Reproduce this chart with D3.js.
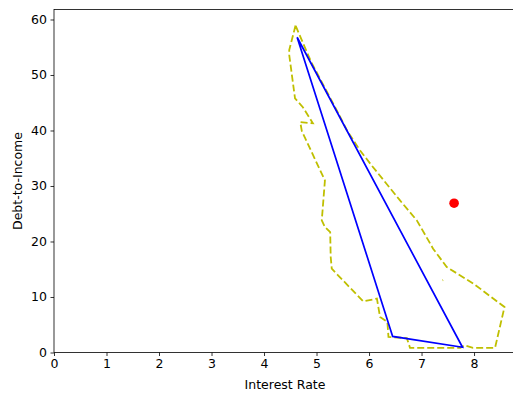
<!DOCTYPE html>
<html><head><meta charset="utf-8">
<script src="https://cdn.jsdelivr.net/npm/d3@7"></script>
<style>body{margin:0;background:#fff}svg text{font-family:"DejaVu Sans",sans-serif;fill:#000}</style>
</head><body><svg id="c" width="513" height="396"></svg>
<script>
const xTicks = [0,1,2,3,4,5,6,7,8];
const yTicks = [0,10,20,30,40,50,60];
const hullX = [4.63, 6.45, 7.78, 4.63];
const hullY = [56.8, 2.9, 0.95, 56.8];
const boundX = [4.60,4.48,4.48,4.59,4.74,4.93,4.69,4.72,5.16,5.10,5.16,5.26,5.27,5.29,5.89,6.15,6.21,6.35,6.37,6.72,6.78,7.74,7.82,7.98,8.40,8.58,7.99,7.48,7.22,7.13,6.91,6.59,6.05,5.83,5.58,5.42,5.18,4.90,4.60];
const boundY = [58.9,54.5,53.6,45.8,44.2,41.3,41.5,39.9,31.0,23.8,22.6,21.7,17.2,15.1,9.2,9.7,6.4,5.5,2.8,2.6,0.85,0.85,1.3,0.85,0.85,8.2,12.4,15.4,18.7,20.2,23.8,27.4,33.7,36.4,40.0,43.0,47.3,52.3,58.9];
const strayX = [7.40, 7.41];
const strayY = [13.0, 13.05];
const pointX = [7.62];
const pointY = [26.9];

const m = {l:54, t:9.5, r:515, b:352.5};
const x = d3.scaleLinear().domain([0, 8.78]).range([m.l, m.r]);
const y = d3.scaleLinear().domain([0, 61.8]).range([m.b, m.t]);
const svg = d3.select("#c");

const line = d3.line().x(d=>x(d[0])).y(d=>y(d[1]));
svg.append("path").datum(boundX.map((v,i)=>[v,boundY[i]]))
  .attr("d", line).attr("fill","none").attr("stroke","#bfbf00")
  .attr("stroke-width",1.8).attr("stroke-dasharray","7,3");
svg.append("path").datum(strayX.map((v,i)=>[v,strayY[i]]))
  .attr("d", line).attr("fill","none").attr("stroke","#bfbf00")
  .attr("stroke-width",1.8);
svg.append("path").datum(hullX.map((v,i)=>[v,hullY[i]]))
  .attr("d", line).attr("fill","none").attr("stroke","#0000ff")
  .attr("stroke-width",1.7).attr("stroke-linejoin","miter");
svg.selectAll("circle.pt").data(pointX.map((v,i)=>[v,pointY[i]])).enter()
  .append("circle").attr("cx",d=>x(d[0])).attr("cy",d=>y(d[1])).attr("r",4.8).attr("fill","#ff0000");

svg.append("rect").attr("x",m.l).attr("y",m.t).attr("width",m.r-m.l).attr("height",m.b-m.t)
  .attr("fill","none").attr("stroke","#000").attr("stroke-width",0.8);

const xa = svg.append("g").attr("transform",`translate(0,${m.b})`)
  .call(d3.axisBottom(x).tickValues(xTicks).tickSize(3.5).tickPadding(3).tickFormat(d3.format("d")));
const ya = svg.append("g").attr("transform",`translate(${m.l},0)`)
  .call(d3.axisLeft(y).tickValues(yTicks).tickSize(3.5).tickPadding(3.5).tickFormat(d3.format("d")));
[xa,ya].forEach(a=>{
  a.select(".domain").remove();
  a.selectAll("line").attr("stroke","#000").attr("stroke-width",0.8);
  a.selectAll("text").attr("font-size",12.5).attr("font-family","DejaVu Sans").attr("fill","#000");
});

svg.append("text").attr("x",285).attr("y",389).attr("text-anchor","middle")
  .attr("font-size",12.5).text("Interest Rate");
svg.append("text").attr("transform",`translate(22,${(m.t+m.b)/2}) rotate(-90)`)
  .attr("text-anchor","middle").attr("font-size",12.5).text("Debt-to-Income");
</script></body></html>
